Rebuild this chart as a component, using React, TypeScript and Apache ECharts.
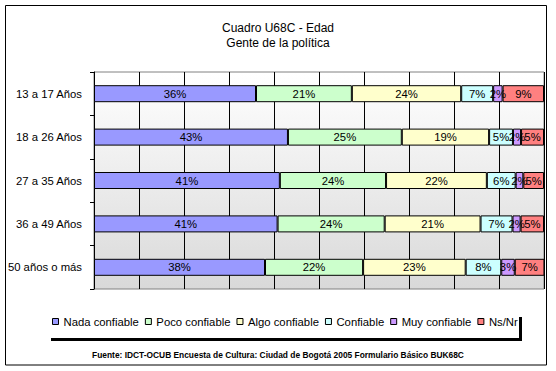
import React, { useEffect, useRef } from "react";
import * as echarts from "echarts";

const categories = ["13 a 17 Años", "18 a 26 Años", "27 a 35 Años", "36 a 49 Años", "50 años o más"];
const seriesNames = ["Nada confiable", "Poco confiable", "Algo confiable", "Confiable", "Muy confiable", "Ns/Nr"];
const nada = [36.0, 43.1, 41.3, 40.8, 38.0];
const poco = [21.3, 25.3, 23.6, 23.8, 21.8];
const algo = [24.3, 19.4, 22.4, 21.3, 22.8];
const confiable = [7.1, 5.3, 6.4, 7.1, 7.9];
const muy = [2.1, 1.8, 1.7, 1.8, 3.0];
const nsnr = [9.2, 5.1, 4.6, 5.2, 6.6];
const colors = ["#9999FF", "#CCFFCC", "#FFFFCC", "#CCFFFF", "#CC99FF", "#FF8080"];
const xTicks = [0, 10, 20, 30, 40, 50, 60, 70, 80, 90, 100];

const FONT = "'Liberation Sans', Arial, sans-serif";
const FS = 11.3;

export default function App() {
  const ref = useRef<HTMLDivElement>(null);
  useEffect(() => {
    document.body.style.margin = "0";
    const chart = echarts.init(ref.current!, null, { renderer: "svg" });
    const data = [nada, poco, algo, confiable, muy, nsnr];
    chart.setOption({
      animation: false,
      backgroundColor: "#ffffff",
      textStyle: { fontFamily: FONT },
      title: {
        text: "Cuadro U68C - Edad\nGente de la política",
        left: "center",
        top: 20,
        padding: 0,
        textStyle: { fontSize: 12, fontWeight: "normal", color: "#000", lineHeight: 15.5, fontFamily: FONT },
      },
      legend: {
        data: seriesNames,
        left: 52,
        top: 316,
        padding: 0,
        itemWidth: 6,
        itemHeight: 6,
        itemGap: 6,
        icon: "rect",
        textStyle: { fontSize: FS, color: "#000", fontFamily: FONT },
        itemStyle: { borderColor: "#000", borderWidth: 1 },
      },
      graphic: [
        { type: "rect", shape: { x: 5.5, y: 5.5, width: 541, height: 359.5 }, style: { fill: "none", stroke: "#000", lineWidth: 1 }, z: 0 },
        { type: "rect", shape: { x: 51, y: 317, width: 471, height: 24 }, style: { fill: "#000" }, z: 1 },
        { type: "rect", shape: { x: 48, y: 314, width: 471, height: 24 }, style: { fill: "#fff" }, z: 2 },
        {
          type: "text",
          left: "center",
          top: 351,
          style: {
            text: "Fuente: IDCT-OCUB Encuesta de Cultura: Ciudad de Bogotá 2005 Formulario Básico BUK68C",
            font: "bold 8.4px 'Liberation Sans', Arial, sans-serif",
            fill: "#000",
          },
          z: 3,
        },
      ],
      grid: {
        left: 94,
        right: 12,
        top: 72,
        bottom: 82,
        show: true,
        borderColor: "#808080",
        borderWidth: 1,
        backgroundColor: new echarts.graphic.LinearGradient(0, 0, 0, 1, [
          { offset: 0, color: "#ffffff" },
          { offset: 1, color: "#d9d9d9" },
        ]),
      },
      xAxis: {
        type: "value",
        min: xTicks[0],
        max: xTicks[xTicks.length - 1],
        interval: 10,
        axisLabel: { show: false },
        axisLine: { show: false },
        axisTick: { show: false },
        splitLine: { show: true, lineStyle: { color: "#000", width: 1 } },
      },
      yAxis: {
        type: "category",
        data: categories,
        inverse: true,
        axisLine: { show: true, lineStyle: { color: "#000", width: 1 } },
        axisTick: { show: true, length: 4, lineStyle: { color: "#000" } },
        axisLabel: { fontSize: FS, color: "#000", margin: 12, fontFamily: FONT },
      },
      series: seriesNames.map((name, i) => ({
        name,
        type: "bar",
        stack: "total",
        barWidth: 17,
        data: data[i],
        itemStyle: { color: colors[i], borderColor: "#000", borderWidth: 1 },
        label: {
          show: true,
          position: "inside",
          color: "#000",
          fontSize: FS,
          fontFamily: FONT,
          formatter: (p: any) => Math.round(p.value) + "%",
        },
      })),
    });
    return () => chart.dispose();
  }, []);
  return <div ref={ref} style={{ position: "absolute", left: 0, top: 0, width: 556, height: 371 }} />;
}
